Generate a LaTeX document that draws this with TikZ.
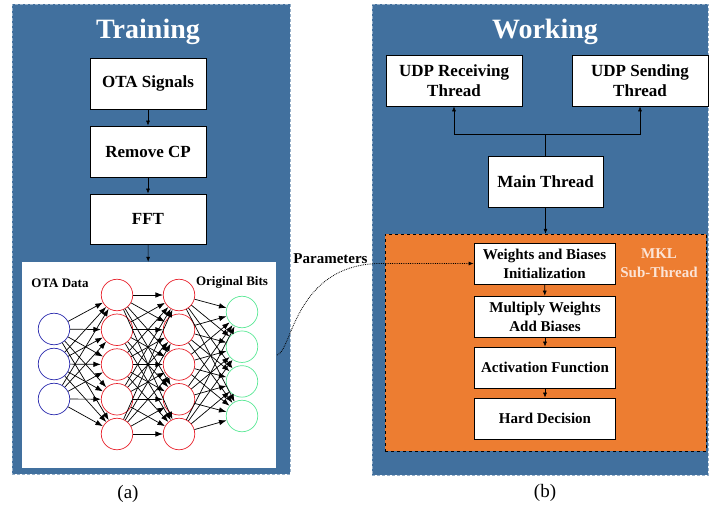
\documentclass[tikz,border=0pt]{standalone}
\usepackage{fontspec}
\setmainfont{Liberation Serif}
\usetikzlibrary{arrows.meta}
\definecolor{panelblue}{RGB}{65,112,158}
\definecolor{paneledge}{RGB}{150,175,200}
\definecolor{mklorange}{RGB}{237,125,49}
\definecolor{mkltext}{RGB}{252,228,214}
\definecolor{nnblue}{RGB}{45,45,175}
\definecolor{nnred}{RGB}{232,35,45}
\definecolor{nngreen}{RGB}{90,232,150}
\begin{document}
\begin{tikzpicture}[x=1pt,y=-1pt,
  panel/.style={fill=panelblue, draw=paneledge, densely dashed, line width=0.5pt},
  title/.style={text=white, font=\bfseries\fontsize{28}{32}\selectfont},
  box/.style={draw=black, fill=white, line width=0.7pt, align=center, inner sep=0pt,
    font=\bfseries\fontsize{17}{20}\selectfont},
  sbox/.style={draw=black, fill=white, line width=0.7pt, align=center, inner sep=0pt,
    minimum width=141pt, minimum height=41pt,
    font=\bfseries\fontsize{15}{19}\selectfont},
  arr/.style={-{Latex[length=5pt,width=4pt]}, line width=0.6pt},
  neuron/.style={circle, minimum size=31.5pt, inner sep=0pt, line width=0.7pt, fill=white},
  nnarr/.style={-{Latex[length=7.5pt,width=5.5pt]}, line width=0.7pt},
  nnlabel/.style={font=\bfseries\fontsize{13}{15}\selectfont},
  captext/.style={font=\fontsize{19}{22}\selectfont}
]
\useasboundingbox (0,0) rectangle (709,508);

% panels
\node[panel, minimum width=278pt, minimum height=470pt, inner sep=0pt] (lpanel) at (151,239) {};
\node[panel, minimum width=336pt, minimum height=471pt, inner sep=0pt] (rpanel) at (540,239.5) {};

\node[title] (ttrain) at (148,32) {Training};
\node[title] (twork) at (545,32) {Working};

% training flow
\node[box, minimum width=116pt, minimum height=51pt] (ota) at (148,83.5) {OTA Signals};
\node[box, minimum width=116pt, minimum height=51pt] (rcp) at (148,151.5) {Remove CP};
\node[box, minimum width=116pt, minimum height=50pt] (fft) at (148,219) {FFT};
\node[draw=white, fill=white, minimum width=253pt, minimum height=205pt, inner sep=0pt] (nnbox) at (148.5,364.5) {};

\draw[arr] (ota) -- (rcp);
\draw[arr] (rcp) -- (fft);
\draw[arr] (fft) -- (nnbox);

% neural network
\foreach \i/\y in {1/329,2/364,3/399}
  \node[neuron, draw=nnblue] (in\i) at (54,\y) {};
\foreach \i/\y in {1/295,2/329.75,3/364.5,4/399.25,5/434}
  \node[neuron, draw=nnred] (ha\i) at (117,\y) {};
\foreach \i/\y in {1/295,2/329.75,3/364.5,4/399.25,5/434}
  \node[neuron, draw=nnred] (hb\i) at (179,\y) {};
\foreach \i/\y in {1/312,2/346.7,3/381.4,4/416}
  \node[neuron, draw=nngreen] (out\i) at (242,\y) {};

\foreach \i in {1,2,3}
  \foreach \j in {1,...,5}
    \draw[nnarr] (in\i) -- (ha\j);
\foreach \i in {1,...,5}
  \foreach \j in {1,...,5}
    \draw[nnarr] (ha\i) -- (hb\j);
\foreach \i in {1,...,5}
  \foreach \j in {1,...,4}
    \draw[nnarr] (hb\i) -- (out\j);

\node[nnlabel] (otadata) at (60,283) {OTA Data};
\node[nnlabel] (origbits) at (232,282) {Original Bits};

% working flow
\node[box, minimum width=136pt, minimum height=51pt] (udpr) at (454,80.5) {UDP Receiving\\Thread};
\node[box, minimum width=136pt, minimum height=51pt] (udps) at (640,80.5) {UDP Sending\\Thread};
\node[box, minimum width=115pt, minimum height=51pt] (main) at (545.5,181.5) {Main Thread};

\draw[line width=0.7pt] (main.north) -- ++(0,-21) coordinate (fork);
\draw[arr] (fork) -| (udpr.south);
\draw[arr] (fork) -| (udps.south);

\node[draw=black, dashed, fill=mklorange, line width=0.5pt, minimum width=321pt, minimum height=217pt, inner sep=0pt] (mkl) at (545.5,342.5) {};
\draw[arr] (main) -- (mkl.north);

\node[sbox] (wb) at (544.5,263.5) {Weights and Biases\\Initialization};
\node[sbox] (mw) at (545,316.5) {Multiply Weights\\Add Biases};
\node[sbox] (af) at (545,367.5) {Activation Function};
\node[sbox] (hd) at (545,418.5) {Hard Decision};
\draw[arr] (wb) -- (mw);
\draw[arr] (mw) -- (af);
\draw[arr] (af) -- (hd);

\node[text=mkltext, align=center, font=\bfseries\fontsize{15}{19}\selectfont] (mkllabel) at (659,263.5) {MKL\\Sub-Thread};

% parameters
\node[font=\bfseries\fontsize{15}{18}\selectfont] (param) at (330.5,259) {Parameters};
\coordinate (cstart) at (277,355);
\coordinate (cmid) at (378,263.5);
\draw[densely dotted, line width=0.8pt, -{Latex[length=5pt,width=4pt]}] (cstart) .. controls (292,352) and (294,266) .. (cmid) -- (wb.west);

% captions
\node[captext] (capa) at (128,494) {(a)};
\node[captext] (capb) at (545,493) {(b)};
\end{tikzpicture}
\end{document}
